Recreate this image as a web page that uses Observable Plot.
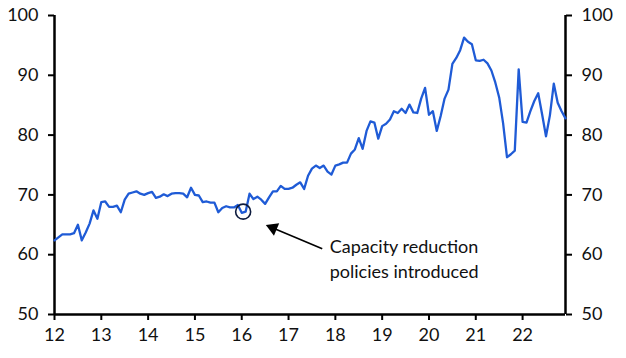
<!DOCTYPE html>
<html>
<head>
<meta charset="utf-8">
<script src="https://cdn.jsdelivr.net/npm/d3@7"></script>
<script src="https://cdn.jsdelivr.net/npm/@observablehq/plot@0.6"></script>
<style>
  html, body { margin: 0; padding: 0; background: #fff; }
  #chart svg { font-family: Lato, "Open Sans", sans-serif; }
</style>
</head>
<body>
<div id="chart"></div>
<script>
// Monthly index, Jan 2012 – Dec 2022
const startYear = 2012;
const values = [
  62.4, 62.9, 63.4, 63.4, 63.4, 63.6, 65.0, 62.4, 63.7, 65.2, 67.4, 66.0,
  68.8, 68.9, 68.0, 68.0, 68.2, 67.1, 69.2, 70.2, 70.4, 70.6, 70.2, 70.0,
  70.3, 70.5, 69.5, 69.7, 70.1, 69.8, 70.2, 70.3, 70.3, 70.2, 69.6, 71.2,
  70.0, 69.9, 68.8, 68.9, 68.7, 68.7, 67.1, 67.8, 68.1, 67.9, 67.9, 68.3,
  67.0, 67.2, 70.2, 69.3, 69.7, 69.2, 68.5, 69.6, 70.6, 70.6, 71.5, 71.0,
  71.0, 71.2, 71.7, 72.1, 71.0, 73.2, 74.4, 74.9, 74.5, 74.9, 73.9, 73.4,
  74.9, 75.1, 75.4, 75.4, 76.9, 77.6, 79.5, 77.7, 80.7, 82.3, 82.1, 79.4,
  81.5, 81.9, 82.6, 84.0, 83.7, 84.4, 83.7, 85.1, 83.8, 83.7, 86.1, 87.9,
  83.4, 84.0, 80.7, 83.2, 86.1, 87.6, 91.9, 92.9, 94.2, 96.3, 95.6, 95.2,
  92.5, 92.4, 92.6, 92.0, 90.8, 88.8, 86.3, 82.0, 76.3, 76.8, 77.4, 91.0,
  82.2, 82.1, 84.0, 85.7, 87.0, 83.5, 79.8, 83.3, 88.6, 85.4, 84.0, 82.8
];
const yearTicks = [2012, 2013, 2014, 2015, 2016, 2017, 2018, 2019, 2020, 2021, 2022];
const yTicks = [50, 60, 70, 80, 90, 100];
const annotationLines = ["Capacity reduction", "policies introduced"];

const data = values.map((v, i) => ({x: startYear + i / 12, y: v}));

const W = 626, H = 358;
const mL = 54, mR = 61, mT = 15, mB = 44;
const xDomain = [startYear, startYear + (values.length - 1) / 12];
const yDomain = [50, 100];
const FS = 18;

// helpers mirroring the plot's linear scales (for arrow-head placement)
const xs = d3.scaleLinear(xDomain, [mL, W - mR]);
const ys = d3.scaleLinear(yDomain, [H - mB, mT]);

// annotation anchors in data coordinates
const circlePt = {x: 2016.03, y: 67.2};
const arrowTail = {x: 2017.72, y: 61.0};
const arrowTip = {x: 2016.54, y: 64.9};
const textPos = [{x: 2017.88, y: 61.3}, {x: 2017.88, y: 57.1}];

// arrow head triangle: compute center & rotation in pixel space
const tx = xs(arrowTip.x), ty = ys(arrowTip.y);
const sx = xs(arrowTail.x), sy = ys(arrowTail.y);
const len = Math.hypot(tx - sx, ty - sy);
const ux = (tx - sx) / len, uy = (ty - sy) / len;
const headBack = 6.5;
const headCenter = {x: xs.invert(tx - ux * headBack), y: ys.invert(ty - uy * headBack)};
const shaftEnd = {x: xs.invert(tx - ux * 9), y: ys.invert(ty - uy * 9)};
const rot = Math.atan2(uy, ux) * 180 / Math.PI + 90;

const chart = Plot.plot({
  width: W,
  height: H,
  marginLeft: mL,
  marginRight: mR,
  marginTop: mT,
  marginBottom: mB,
  style: {fontSize: FS + "px", fontFamily: "Lato, 'Open Sans', sans-serif", color: "#000", background: "#fff"},
  x: {domain: xDomain},
  y: {domain: yDomain},
  marks: [
    Plot.axisY(yTicks, {anchor: "left", tickSize: 6, tickPadding: 10, label: null, stroke: "#000", strokeWidth: 2, fill: "#111", fontSize: FS}),
    Plot.axisY(yTicks, {anchor: "right", tickSize: 6, tickPadding: 10, label: null, stroke: "#000", strokeWidth: 2, fill: "#111", fontSize: FS}),
    Plot.axisX(yearTicks, {anchor: "bottom", tickSize: 6, tickPadding: 8, label: null, tickFormat: d => String(d % 100), stroke: "#000", strokeWidth: 2, fill: "#111", fontSize: FS}),
    Plot.ruleX([xDomain[0], xDomain[1]], {stroke: "#000", strokeWidth: 2.5}),
    Plot.ruleY([50], {stroke: "#000", strokeWidth: 2.5}),
    Plot.line(data, {x: "x", y: "y", stroke: "#1f5bd6", strokeWidth: 2.3}),
    Plot.dot([circlePt], {x: "x", y: "y", r: 7.5, stroke: "#0d1b3e", strokeWidth: 1.6, fill: "none"}),
    Plot.link([{x1: arrowTail.x, y1: arrowTail.y, x2: shaftEnd.x, y2: shaftEnd.y}], {x1: "x1", y1: "y1", x2: "x2", y2: "y2", stroke: "#000", strokeWidth: 1.6}),
    Plot.dot([headCenter], {x: "x", y: "y", symbol: "triangle", r: 5, fill: "#000", stroke: "none", rotate: rot}),
    Plot.text(annotationLines.map((t, i) => ({t, ...textPos[i]})), {x: "x", y: "y", text: "t", textAnchor: "start", lineAnchor: "middle", fontSize: FS, fill: "#111"})
  ]
});
document.getElementById("chart").appendChild(chart);
</script>
</body>
</html>
